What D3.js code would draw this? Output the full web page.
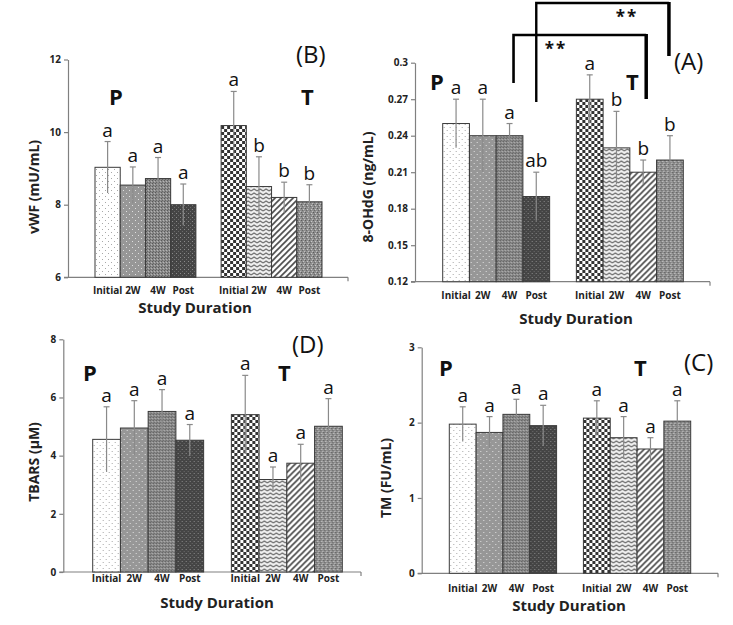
<!DOCTYPE html>
<html><head><meta charset="utf-8">
<script src="https://cdn.jsdelivr.net/npm/d3@7"></script>
<style>body{margin:0;background:#fff}svg{display:block}</style>
</head><body><svg id="c" width="733" height="625"></svg>
<script>
const durations = ["Initial", "2W", "4W", "Post"];
const groups = ["P", "T"];

// (B) vWF (mU/mL)
const vwfTicks = [6, 8, 10, 12];
const vwfP = [9.03, 8.54, 8.72, 8.00];
const vwfPErr = [0.71, 0.50, 0.58, 0.57];
const vwfT = [10.18, 8.50, 8.20, 8.08];
const vwfTErr = [0.94, 0.82, 0.42, 0.47];
const vwfPLetters = ["a", "a", "a", "a"];
const vwfTLetters = ["a", "b", "b", "b"];

// (A) 8-OHdG (ng/mL)
const ohdgTicks = [0.12, 0.15, 0.18, 0.21, 0.24, 0.27, 0.3];
const ohdgP = [0.25, 0.24, 0.24, 0.19];
const ohdgPErr = [0.02, 0.03, 0.01, 0.02];
const ohdgT = [0.27, 0.23, 0.21, 0.22];
const ohdgTErr = [0.02, 0.03, 0.01, 0.02];
const ohdgPLetters = ["a", "a", "a", "ab"];
const ohdgTLetters = ["a", "b", "b", "b"];

// (D) TBARS (µM)
const tbarsTicks = [0, 2, 4, 6, 8];
const tbarsP = [4.56, 4.95, 5.52, 4.53];
const tbarsPErr = [1.12, 0.94, 0.75, 0.54];
const tbarsT = [5.41, 3.18, 3.74, 5.01];
const tbarsTErr = [1.35, 0.43, 0.65, 0.95];
const tbarsPLetters = ["a", "a", "a", "a"];
const tbarsTLetters = ["a", "a", "a", "a"];

// (C) TM (FU/mL)
const tmTicks = [0, 1, 2, 3];
const tmP = [1.98, 1.87, 2.11, 1.96];
const tmPErr = [0.23, 0.21, 0.20, 0.27];
const tmT = [2.06, 1.80, 1.65, 2.02];
const tmTErr = [0.23, 0.28, 0.15, 0.27];
const tmPLetters = ["a", "a", "a", "a"];
const tmTLetters = ["a", "a", "a", "a"];

const FONT = "'Open Sans', 'DejaVu Sans', sans-serif";
const svg = d3.select("#c");
const defs = svg.append("defs");

function pattern(id, w, h, bg, draw) {
  const p = defs.append("pattern").attr("id", id)
    .attr("patternUnits", "userSpaceOnUse").attr("width", w).attr("height", h);
  p.append("rect").attr("width", w).attr("height", h).attr("fill", bg);
  draw(p);
}
function px(p, x, y, c, s) { p.append("rect").attr("x", x).attr("y", y).attr("width", s || 1).attr("height", s || 1).attr("fill", c); }

pattern("pInit", 6, 6, "#ffffff", p => { px(p, 1, 1, "#a8a8a8"); px(p, 4, 4, "#a8a8a8"); });
pattern("p2W", 6, 6, "#979797", p => { px(p, 1, 1, "#e0e0e0"); px(p, 4, 4, "#e0e0e0"); });
pattern("p4W", 3, 3, "#8a8a8a", p => { px(p, 0, 0, "#5a5a5a"); px(p, 2, 1, "#b5b5b5"); px(p, 1, 2, "#666"); });
pattern("pPost", 4, 4, "#454545", p => { px(p, 1, 1, "#8a8a8a"); px(p, 3, 3, "#6a6a6a"); });
pattern("tInit", 6, 6, "#ffffff", p => { px(p, 0, 0, "#333", 3); px(p, 3, 3, "#333", 3); });
pattern("t2W", 6, 4, "#f0f0f0", p => {
  p.append("path").attr("d", "M0,3 L3,1 L6,3").attr("fill", "none").attr("stroke", "#6e6e6e").attr("stroke-width", 1.2);
});
pattern("t4W", 6, 6, "#ffffff", p => {
  p.append("path").attr("d", "M-1,7 L7,-1 M-4,4 L4,-4 M2,10 L10,2").attr("stroke", "#4a4a4a").attr("stroke-width", 1.6);
});
pattern("tPost", 4, 4, "#8e8e8e", p => {
  px(p, 0, 0, "#555"); px(p, 2, 1, "#d0d0d0"); px(p, 1, 2, "#666"); px(p, 3, 3, "#c4c4c4");
});
const fills = { P: ["pInit", "p2W", "p4W", "pPost"], T: ["tInit", "t2W", "t4W", "tPost"] };

function drawPanel(cfg) {
  const g = svg.append("g");
  const y = d3.scaleLinear().domain([cfg.ticks[0], cfg.ticks[cfg.ticks.length - 1]]).range([cfg.yBottom, cfg.yTop]);
  const x0 = d3.scaleBand().domain(groups).range([cfg.gx0, cfg.gx1]).paddingInner(0.2);
  const x1 = d3.scaleBand().domain(durations).range([0, x0.bandwidth()]);

  // y axis
  const ga = g.append("g").attr("transform", `translate(${cfg.axisX},0)`)
    .call(d3.axisLeft(y).tickValues(cfg.ticks).tickFormat(cfg.fmt).tickSize(4).tickSizeOuter(0));
  ga.select(".domain").attr("stroke", "#808080").attr("stroke-width", 1.2);
  ga.selectAll(".tick line").attr("stroke", "#808080").attr("stroke-width", 1.2);
  ga.selectAll(".tick text").attr("font-family", FONT).attr("font-weight", "bold")
    .attr("font-size", 10).attr("fill", "#222").attr("x", -7);

  // x axis baseline
  const yb = y(cfg.ticks[0]);
  g.append("line").attr("x1", cfg.axisX - 4).attr("x2", cfg.xEnd).attr("y1", yb).attr("y2", yb)
    .attr("stroke", "#808080").attr("stroke-width", 1.2);
  g.append("line").attr("x1", cfg.xEnd).attr("x2", cfg.xEnd).attr("y1", yb).attr("y2", yb + 4)
    .attr("stroke", "#808080").attr("stroke-width", 1.2);

  groups.forEach((grp, gi) => {
    const vals = cfg.values[gi], errs = cfg.errs[gi], lets = cfg.letters[gi];
    const gg = g.append("g").attr("transform", `translate(${x0(grp)},0)`);
    // bars
    gg.selectAll("rect.bar").data(durations).join("rect").attr("class", "bar")
      .attr("x", d => x1(d)).attr("width", x1.bandwidth())
      .attr("y", (d, i) => y(vals[i])).attr("height", (d, i) => yb - y(vals[i]))
      .attr("fill", (d, i) => `url(#${fills[grp][i]})`)
      .attr("stroke", "#3a3a3a").attr("stroke-width", 1);
    // error bars
    const cx = d => x1(d) + x1.bandwidth() / 2;
    const eb = gg.selectAll("g.err").data(durations).join("g").attr("class", "err")
      .attr("stroke", "#8a8a8a").attr("stroke-width", 1.2);
    eb.append("line").attr("x1", cx).attr("x2", cx)
      .attr("y1", (d, i) => y(vals[i] + errs[i])).attr("y2", (d, i) => y(vals[i] - errs[i]));
    eb.append("line").attr("x1", d => cx(d) - 3).attr("x2", d => cx(d) + 3)
      .attr("y1", (d, i) => y(vals[i] + errs[i])).attr("y2", (d, i) => y(vals[i] + errs[i]));
    // letters
    gg.selectAll("text.let").data(durations).join("text").attr("class", "let")
      .attr("x", cx).attr("y", (d, i) => y(vals[i] + errs[i]) - 5)
      .attr("text-anchor", "middle").attr("font-family", FONT).attr("font-size", 19).attr("fill", "#111")
      .text((d, i) => lets[i]);
    // category tick labels
    const xa = gg.append("g").attr("transform", `translate(0,${cfg.tickY})`)
      .call(d3.axisBottom(x1).tickSize(0).tickPadding(0));
    xa.select(".domain").remove();
    xa.selectAll("text").attr("font-family", FONT).attr("font-weight", "bold").attr("font-size", 10)
      .attr("fill", "#222").attr("dy", 0).attr("y", 0);
    // group label
    g.append("text").attr("x", cfg.groupX[gi]).attr("y", cfg.groupY)
      .attr("font-family", FONT).attr("font-weight", "bold").attr("font-size", 22).attr("fill", "#111")
      .text(grp);
  });

  // axis titles
  g.append("text").attr("x", cfg.titleX).attr("y", cfg.titleY).attr("text-anchor", "middle")
    .attr("font-family", FONT).attr("font-weight", "bold").attr("font-size", 15).attr("fill", "#222")
    .text("Study Duration");
  g.append("text").attr("transform", `translate(${cfg.ylabX},${cfg.ylabY}) rotate(-90)`)
    .attr("text-anchor", "middle").attr("dominant-baseline", "central")
    .attr("font-family", FONT).attr("font-weight", "bold").attr("font-size", 14).attr("fill", "#222")
    .text(cfg.ylabel);
  // panel tag
  g.append("text").attr("x", cfg.tagX).attr("y", cfg.tagY)
    .attr("font-family", FONT).attr("font-size", 24).attr("fill", "#111").text(cfg.tag);
  return { x0, x1, y };
}

// (B)
drawPanel({
  ticks: vwfTicks, fmt: d3.format("d"), values: [vwfP, vwfT], errs: [vwfPErr, vwfTErr], letters: [vwfPLetters, vwfTLetters],
  yTop: 59.5, yBottom: 277.3, axisX: 68, xEnd: 348, gx0: 95, gx1: 322, tickY: 294,
  groupX: [109, 301], groupY: 105, titleX: 195, titleY: 313, ylabX: 33, ylabY: 187, ylabel: "vWF (mU/mL)",
  tag: "(B)", tagX: 296, tagY: 63
});
// (A)
const A = drawPanel({
  ticks: ohdgTicks, fmt: d => d3.format(".2~f")(d), values: [ohdgP, ohdgT], errs: [ohdgPErr, ohdgTErr], letters: [ohdgPLetters, ohdgTLetters],
  yTop: 62.7, yBottom: 281.7, axisX: 415, xEnd: 710, gx0: 442.7, gx1: 683.3, tickY: 299,
  groupX: [430, 626], groupY: 90, titleX: 576, titleY: 324, ylabX: 367, ylabY: 187, ylabel: "8-OHdG (ng/mL)",
  tag: "(A)", tagX: 674, tagY: 70
});
// (D)
drawPanel({
  ticks: tbarsTicks, fmt: d3.format("d"), values: [tbarsP, tbarsT], errs: [tbarsPErr, tbarsTErr], letters: [tbarsPLetters, tbarsTLetters],
  yTop: 339.3, yBottom: 572, axisX: 63.3, xEnd: 361, gx0: 92.7, gx1: 342.3, tickY: 582,
  groupX: [83, 278], groupY: 381, titleX: 217, titleY: 608, ylabX: 33, ylabY: 462, ylabel: "TBARS (\u00b5M)",
  tag: "(D)", tagX: 292, tagY: 353
});
// (C)
drawPanel({
  ticks: tmTicks, fmt: d3.format("d"), values: [tmP, tmT], errs: [tmPErr, tmTErr], letters: [tmPLetters, tmTLetters],
  yTop: 347.3, yBottom: 573.3, axisX: 421.7, xEnd: 718, gx0: 449.3, gx1: 690.7, tickY: 592,
  groupX: [439, 634], groupY: 376, titleX: 569, titleY: 611, ylabX: 385, ylabY: 478, ylabel: "TM (FU/mL)",
  tag: "(C)", tagX: 684, tagY: 371
});

// significance brackets in (A)
const ctr = (grp, d) => A.x0(grp) + A.x1(d) + A.x1.bandwidth() / 2;
const br = svg.append("g").attr("stroke", "#000").attr("fill", "none");
// upper: P Post vs T Post
const uL = ctr("P", "Post"), uR = ctr("T", "Post") - 1;
br.append("path").attr("d", `M${uL},102 V3 H${uR}`).attr("stroke-width", 2.4);
br.append("line").attr("x1", uR).attr("x2", uR).attr("y1", 2).attr("y2", 56).attr("stroke-width", 3.5);
// lower: P 4W vs T 4W
const lL = ctr("P", "4W") + 4, lR = ctr("T", "4W") + 3;
br.append("path").attr("d", `M${lL},83 V35 H${lR}`).attr("stroke-width", 2.6);
br.append("line").attr("x1", lR).attr("x2", lR).attr("y1", 34).attr("y2", 99).attr("stroke-width", 3.5);
svg.append("text").attr("x", 627).attr("y", 23).attr("text-anchor", "middle").attr("font-family", FONT)
  .attr("font-weight", "bold").attr("font-size", 17).attr("letter-spacing", 2).attr("fill", "#111").text("**");
svg.append("text").attr("x", 556).attr("y", 55).attr("text-anchor", "middle").attr("font-family", FONT)
  .attr("font-weight", "bold").attr("font-size", 17).attr("letter-spacing", 2).attr("fill", "#111").text("**");
</script></body></html>
